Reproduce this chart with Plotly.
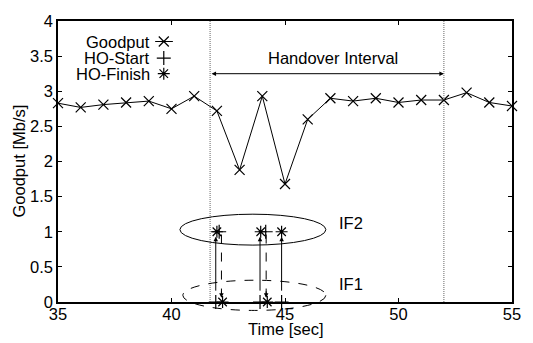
import plotly.graph_objects as go

# Goodput samples (one per second)
time_s = [35, 36, 37, 38, 39, 40, 41, 42, 43, 44, 45, 46, 47, 48, 49, 50, 51, 52, 53, 54, 55]
goodput = [2.83, 2.77, 2.81, 2.84, 2.86, 2.75, 2.93, 2.72, 1.88, 2.93, 1.68, 2.60,
           2.90, 2.86, 2.90, 2.84, 2.875, 2.875, 2.98, 2.84, 2.79]

# Handover events on the two interfaces (IF1 at level 0, IF2 at level 1)
if1_level = 0
if2_level = 1
if1_start_t = [41.95, 43.90, 44.85]     # HO-Start on IF1
if2_finish_t = [42.00, 43.93, 44.85]    # HO-Finish on IF2
if2_start_t = [42.10, 44.15]            # HO-Start on IF2
if1_finish_t = [42.25, 44.22]           # HO-Finish on IF1

# Handover interval boundaries
ho_begin = 41.7
ho_end = 52.0

FONT = "Liberation Sans, Arial, Helvetica, sans-serif"
FS = 16.5
BLACK = "#000000"
MK = dict(size=10, line=dict(color=BLACK, width=1.2))

fig = go.Figure()

fig.add_trace(go.Scatter(
    x=time_s, y=goodput, mode="lines+markers",
    line=dict(color=BLACK, width=1),
    marker=dict(symbol="x-thin", **MK),
    showlegend=False, cliponaxis=False))

fig.add_trace(go.Scatter(
    x=if1_start_t, y=[if1_level] * len(if1_start_t), mode="markers",
    marker=dict(symbol="cross-thin", **MK), showlegend=False, cliponaxis=False))
fig.add_trace(go.Scatter(
    x=if2_start_t, y=[if2_level] * len(if2_start_t), mode="markers",
    marker=dict(symbol="cross-thin", **MK), showlegend=False, cliponaxis=False))
fig.add_trace(go.Scatter(
    x=if2_finish_t, y=[if2_level] * len(if2_finish_t), mode="markers",
    marker=dict(symbol="asterisk", **MK), showlegend=False, cliponaxis=False))
fig.add_trace(go.Scatter(
    x=if1_finish_t, y=[if1_level] * len(if1_finish_t), mode="markers",
    marker=dict(symbol="asterisk", **MK), showlegend=False, cliponaxis=False))

# Legend samples drawn on an overlay axis pair spanning the plot area
legend_rows = [("Goodput", "x-thin", True), ("HO-Start", "cross-thin", False),
               ("HO-Finish", "asterisk", False)]
row_y = [0.927, 0.868, 0.8125]
for (label, sym, with_line), ry in zip(legend_rows, row_y):
    if with_line:
        fig.add_trace(go.Scatter(
            x=[0.214, 0.253], y=[ry, ry], mode="lines", xaxis="x2", yaxis="y2",
            line=dict(color=BLACK, width=1), showlegend=False, hoverinfo="skip"))
    fig.add_trace(go.Scatter(
        x=[0.233], y=[ry], mode="markers", xaxis="x2", yaxis="y2",
        marker=dict(symbol=sym, **MK), showlegend=False, hoverinfo="skip"))
    fig.add_annotation(x=0.207, y=ry, xref="paper", yref="paper", text=label,
                       showarrow=False, xanchor="right", yanchor="middle",
                       font=dict(family=FONT, size=FS, color=BLACK))

shapes = []
# Handover interval boundaries
for xb in (ho_begin, ho_end):
    shapes.append(dict(type="line", xref="x", yref="y", x0=xb, x1=xb, y0=0, y1=4,
                       line=dict(color="#666666", width=1, dash="1px,1px")))

# Interface groupings (drawn against the y domain so the lower one may cross the axis)
yr = 4.0
shapes.append(dict(type="circle", xref="x", yref="y domain",
                   x0=40.37, x1=46.8, y0=0.81 / yr, y1=1.25 / yr,
                   line=dict(color=BLACK, width=1)))
shapes.append(dict(type="circle", xref="x", yref="y domain",
                   x0=40.5, x1=46.8, y0=-0.12 / yr, y1=0.31 / yr,
                   line=dict(color=BLACK, width=1, dash="dash")))

# Dashed handover arrows from IF2 down to IF1
for xa in [42.2, 44.17]:
    shapes.append(dict(type="line", xref="x", yref="y", x0=xa, x1=xa, y0=0.96, y1=0.08,
                       line=dict(color=BLACK, width=1, dash="dash")))
    fig.add_annotation(x=xa, y=0.06, xref="x", yref="y", ax=0, ay=-8, text="",
                       showarrow=True, arrowhead=2, arrowsize=0.9, arrowwidth=1,
                       arrowcolor=BLACK)

# Solid handover arrows from IF1 up to IF2
for xa in if1_start_t:
    fig.add_annotation(x=xa, y=0.93, xref="x", yref="y", ax=xa, ay=0.14,
                       axref="x", ayref="y", text="", showarrow=True, arrowhead=2,
                       arrowsize=0.9, arrowwidth=1, arrowcolor=BLACK)

# Handover interval double arrow
fig.add_annotation(x=ho_end, y=3.25, xref="x", yref="y", ax=ho_begin, ay=3.25,
                   axref="x", ayref="y", text="", showarrow=True, arrowhead=2,
                   arrowside="end+start", arrowsize=0.9, arrowwidth=1, arrowcolor=BLACK)
fig.add_annotation(x=47.1, y=3.47, xref="x", yref="y", text="Handover Interval",
                   showarrow=False, font=dict(family=FONT, size=FS, color=BLACK))

fig.add_annotation(x=47.3, y=1.13, xref="x", yref="y", text="IF2", showarrow=False,
                   xanchor="left", font=dict(family=FONT, size=FS, color=BLACK))
fig.add_annotation(x=47.3, y=0.26, xref="x", yref="y", text="IF1", showarrow=False,
                   xanchor="left", font=dict(family=FONT, size=FS, color=BLACK))

# Axis titles
fig.add_annotation(x=0.5, y=0, xref="paper", yref="paper", text="Time [sec]",
                   showarrow=False, xanchor="center", yanchor="top", yshift=-16,
                   font=dict(family=FONT, size=FS, color=BLACK))
fig.add_annotation(x=0, y=0.5, xref="paper", yref="paper", text="Goodput [Mb/s]",
                   showarrow=False, xanchor="center", yanchor="middle", xshift=-40,
                   textangle=-90, font=dict(family=FONT, size=FS, color=BLACK))

fig.update_layout(
    width=533, height=343,
    margin=dict(l=58, r=12, t=14, b=41),
    paper_bgcolor="white", plot_bgcolor="white",
    font=dict(family=FONT, size=FS, color=BLACK),
    shapes=shapes,
    xaxis=dict(range=[35, 55], tickvals=[35, 40, 45, 50, 55], ticks="inside", ticklen=4,
               showline=True, mirror="ticks", linecolor=BLACK, linewidth=1.5,
               tickcolor=BLACK, showgrid=False, zeroline=False, ticklabelstandoff=-4,
               tickfont=dict(size=FS)),
    yaxis=dict(range=[0, 4], dtick=0.5, ticks="inside", ticklen=4,
               showline=True, mirror="ticks", linecolor=BLACK, linewidth=1.5,
               tickcolor=BLACK, showgrid=False, zeroline=False,
               tickfont=dict(size=FS)),
    xaxis2=dict(range=[0, 1], overlaying="x", visible=False, anchor="y2"),
    yaxis2=dict(range=[0, 1], overlaying="y", visible=False, anchor="x2"),
)

fig.write_html("out.html")
